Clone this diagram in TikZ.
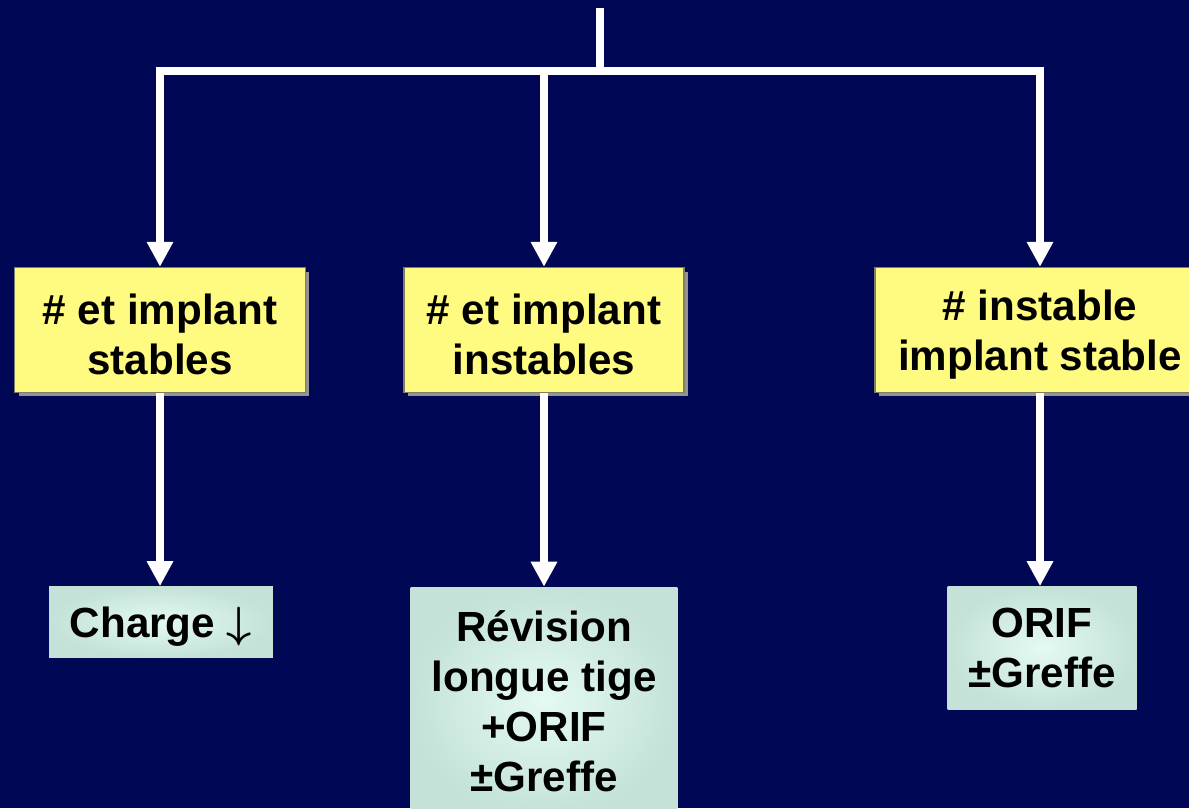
\documentclass[tikz,border=0pt]{standalone}
\usepackage{amsmath}
\usepackage{fontspec}
\setmainfont{Liberation Sans}
\usetikzlibrary{arrows.meta,shadows}

\definecolor{navy}{RGB}{0,8,85}
\definecolor{paleyellow}{RGB}{255,250,128}
\definecolor{boxedge}{RGB}{125,125,105}
\definecolor{mint}{RGB}{228,250,243}
\definecolor{mintedge}{RGB}{196,226,216}

\begin{document}
\begin{tikzpicture}[
        x=0.02cm, y=-0.02cm,
        txt/.style={align=center, text=black, font=\bfseries\fontsize{24}{28.5}\selectfont},
        lowered/.style={execute at begin node={\rule{0pt}{#1}}},
        choice/.style={txt, lowered=1.8cm, draw=boxedge, line width=0.8pt, fill=paleyellow,
          drop shadow={shadow xshift=0.08cm, shadow yshift=-0.08cm, fill=gray!85, opacity=1}},
        result/.style={txt, inner color=mint, outer color=mintedge},
        trunk/.style={draw=white, line width=0.16cm},
        link/.style={trunk, -{Triangle[width=0.5cm,length=0.5cm]}}
      ]
      \useasboundingbox (0,0) rectangle (1189,808);
      \clip (0,0) rectangle (1189,808);
      \fill[navy] (0,0) rectangle (1189,808);

      % second row
      \node[choice, minimum width=5.82cm, minimum height=2.5cm] (stab) at (160,330) {\# et implant\\stables};
      \node[choice, minimum width=5.6cm, minimum height=2.5cm] (inst) at (544,330) {\# et implant\\instables};
      \node[choice, minimum width=6.6cm, minimum height=2.5cm] (fract) at (1040,330) {\# instable\\implant stable};

      % third row
      \node[result, lowered=0.8cm, minimum width=4.48cm, minimum height=1.42cm] (charge) at (161,622) {Charge $\boldsymbol{\downarrow}$};
      \node[result, minimum width=5.34cm, minimum height=4.56cm] (revis) at (544,701) {Révision\\longue tige\\+ORIF\\±Greffe};
      \node[result, minimum width=3.78cm, minimum height=2.46cm] (orif) at (1042,648) {ORIF\\±Greffe};

      \coordinate (top) at (600,8);
      \coordinate (split) at (600,71);
      \draw[trunk] (top) -- (split);
      \foreach \n in {stab,inst,fract}
        \draw[link] (split) -| (\n.north);

      \draw[link] (stab.south) -- (stab.south |- charge.north);
      \draw[link] (inst.south) -- (inst.south |- revis.north);
      \draw[link] (fract.south) -- (fract.south |- orif.north);
      \end{tikzpicture}
\end{document}
